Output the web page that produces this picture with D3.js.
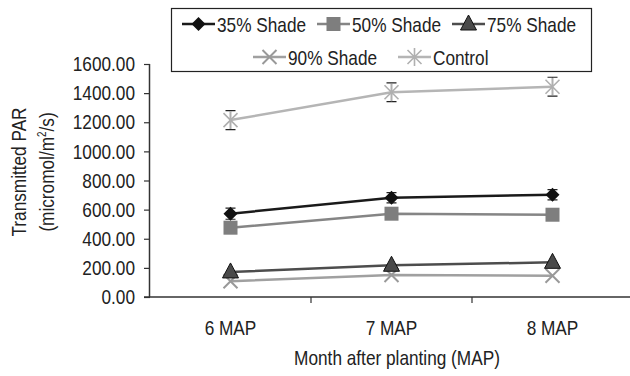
<!DOCTYPE html>
<html>
<head>
<meta charset="utf-8">
<script src="https://cdn.jsdelivr.net/npm/d3@7"></script>
<style>
  body { margin: 0; background: #fff; }
  svg { display: block; }
  svg text { font-family: "Liberation Sans", Arial, sans-serif; }
</style>
</head>
<body>
<svg width="630" height="376"></svg>
<script>
const months = ['6 MAP', '7 MAP', '8 MAP'];
const shade35 = [572, 682, 702];
const shade50 = [476, 572, 565];
const shade75 = [172, 218, 238];
const shade90 = [108, 151, 146];
const control = [1215, 1406, 1444];
const err35 = [38, 35, 35];
const errControl = [65, 65, 65];
const yTicks = [0, 200, 400, 600, 800, 1000, 1200, 1400, 1600];

const series = [
  { name: '35% Shade', values: shade35, err: err35, line: '#1a1a1a', symbol: 'diamond' },
  { name: '50% Shade', values: shade50, err: null, line: '#858585', symbol: 'square' },
  { name: '75% Shade', values: shade75, err: null, line: '#4d4d4d', symbol: 'triangle' },
  { name: '90% Shade', values: shade90, err: null, line: '#a0a0a0', symbol: 'cross' },
  { name: 'Control', values: control, err: errControl, line: '#b5b5b5', symbol: 'asterisk' }
];

const fontSize = 21;
const squeeze = 0.82; // the original font is a narrow one
const svg = d3.select('svg');
const plotLeft = 150, plotRight = 633, plotTop = 64, plotBottom = 297;

function condense(sel) {
  sel.each(function () {
    const w = this.getComputedTextLength();
    d3.select(this).attr('textLength', w * squeeze).attr('lengthAdjust', 'spacingAndGlyphs');
  });
}

const x = d3.scaleBand().domain(months).range([plotLeft, plotRight]);
const y = d3.scaleLinear().domain([0, 1600]).range([plotBottom, plotTop]);

// axes
const yAxis = svg.append('g')
  .attr('transform', `translate(${plotLeft},0)`)
  .call(d3.axisLeft(y).tickValues(yTicks).tickSize(6).tickPadding(9).tickFormat(d3.format('.2f')));
yAxis.attr('font-family', null);
yAxis.select('.domain').attr('stroke', '#333').attr('stroke-width', 1.5).attr('d', `M-0.5,${plotTop}V${plotBottom}`);
yAxis.selectAll('.tick line').attr('stroke', '#333').attr('stroke-width', 1.2);
yAxis.selectAll('text').attr('font-size', fontSize).attr('fill', '#222').call(condense);

const xAxis = svg.append('g')
  .attr('transform', `translate(0,${plotBottom})`)
  .call(d3.axisBottom(x).tickSize(0).tickPadding(23));
xAxis.attr('font-family', null);
xAxis.select('.domain').attr('stroke', '#333').attr('stroke-width', 1.5).attr('d', `M${plotLeft - 6},0H630`);
xAxis.selectAll('text').attr('font-size', fontSize).attr('fill', '#222').call(condense);
xAxis.selectAll('.sep')
  .data(months.slice(1))
  .enter().append('line')
  .attr('x1', d => x(d)).attr('x2', d => x(d))
  .attr('y1', 0).attr('y2', 6)
  .attr('stroke', '#333').attr('stroke-width', 1.2);

// titles
svg.append('text')
  .attr('x', 397).attr('y', 365)
  .attr('text-anchor', 'middle').attr('font-size', fontSize).attr('fill', '#222')
  .text('Month after planting (MAP)')
  .call(condense);

const yt = svg.append('text')
  .attr('transform', `translate(25.5,172) rotate(-90) scale(${squeeze},1)`)
  .attr('text-anchor', 'middle').attr('font-size', fontSize).attr('fill', '#222');
yt.append('tspan').attr('x', 0).attr('dy', 0).text('Transmitted PAR');
yt.append('tspan').attr('x', 0).attr('dy', 29).text('(micromol/m');
yt.append('tspan').attr('dy', -8).attr('font-size', 12).text('2');
yt.append('tspan').attr('dy', 8).text('/s)');

function drawMarker(g, s, cx, cy) {
  if (s.symbol === 'diamond') {
    g.append('path').attr('d', `M${cx},${cy - 7}L${cx + 7},${cy}L${cx},${cy + 7}L${cx - 7},${cy}Z`)
      .attr('fill', '#111');
  } else if (s.symbol === 'square') {
    g.append('rect').attr('x', cx - 7).attr('y', cy - 7).attr('width', 14).attr('height', 14)
      .attr('fill', '#7e7e7e');
  } else if (s.symbol === 'triangle') {
    g.append('path').attr('d', `M${cx},${cy - 9}L${cx + 8},${cy + 6}L${cx - 8},${cy + 6}Z`)
      .attr('fill', '#4a4a4a').attr('stroke', '#111').attr('stroke-width', 1);
  } else if (s.symbol === 'cross') {
    g.append('path').attr('d', `M${cx - 7},${cy - 7}L${cx + 7},${cy + 7}M${cx - 7},${cy + 7}L${cx + 7},${cy - 7}`)
      .attr('stroke', '#999').attr('stroke-width', 2);
  } else {
    g.append('path').attr('d', `M${cx - 7},${cy - 7}L${cx + 7},${cy + 7}M${cx - 7},${cy + 7}L${cx + 7},${cy - 7}M${cx},${cy - 9}V${cy + 9}`)
      .attr('stroke', '#b0b0b0').attr('stroke-width', 1.6);
  }
}

const line = d3.line()
  .x((d, i) => x(months[i]) + x.bandwidth() / 2)
  .y(d => y(d));

// draw back to front
const order = [4, 3, 2, 1, 0];
order.forEach(k => {
  const s = series[k];
  const g = svg.append('g');
  g.append('path').datum(s.values).attr('d', line)
    .attr('fill', 'none').attr('stroke', s.line).attr('stroke-width', 2.5);
  if (s.err) {
    s.values.forEach((v, i) => {
      const cx = x(months[i]) + x.bandwidth() / 2;
      const y1 = y(v + s.err[i]), y2 = y(v - s.err[i]);
      g.append('path')
        .attr('d', `M${cx},${y1}V${y2}M${cx - 5},${y1}H${cx + 5}M${cx - 5},${y2}H${cx + 5}`)
        .attr('stroke', '#222').attr('stroke-width', 1.2).attr('fill', 'none');
    });
  }
  s.values.forEach((v, i) => drawMarker(g, s, x(months[i]) + x.bandwidth() / 2, y(v)));
});

// legend
const legend = svg.append('g');
legend.append('rect').attr('x', 171.5).attr('y', 8.5).attr('width', 420).attr('height', 63)
  .attr('fill', '#fff').attr('stroke', '#222').attr('stroke-width', 1.2);
const legendPos = [[182, 24], [317, 24], [452, 24], [253, 57], [398, 57]];
series.forEach((s, k) => {
  const [lx, ly] = legendPos[k];
  legend.append('line').attr('x1', lx).attr('x2', lx + 33).attr('y1', ly).attr('y2', ly)
    .attr('stroke', s.line).attr('stroke-width', 2.5);
  drawMarker(legend, s, lx + 16.5, ly);
  legend.append('text').attr('x', lx + 35).attr('y', ly + 7.5)
    .attr('font-size', fontSize).attr('fill', '#222').text(s.name)
    .call(condense);
});
</script>
</body>
</html>
